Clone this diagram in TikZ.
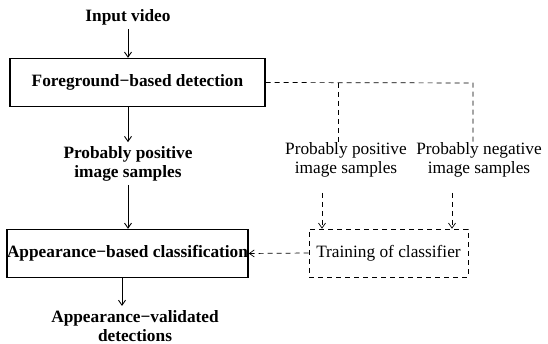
\documentclass[tikz,border=0pt]{standalone}
\usepackage{fontspec}
\setmainfont{Liberation Serif}
\usetikzlibrary{arrows.meta,calc}

\begin{document}
\begin{tikzpicture}[x=1pt,y=1pt,
    every node/.style={font=\fontsize{17.3}{19.5}\selectfont,align=center,inner sep=0pt},
    stage/.style={draw,line width=1.4pt,minimum height=48pt},
    trainbox/.style={draw,dashed,dash pattern=on 5pt off 4pt,line width=0.7pt,minimum width=159pt,minimum height=48pt},
    flow/.style={line width=0.9pt,-{Straight Barb[length=5pt,width=7pt]}},
    feed/.style={line width=0.7pt,dash pattern=on 5pt off 4pt}]
    \useasboundingbox (0,0) rectangle (548,344);
    % main chain on the left
    \node[font=\fontsize{17.3}{19.5}\selectfont\bfseries] (input) at (128,327) {Input video};
    \node[stage,minimum width=255pt] (fg) at (137.5,261.5) {\bfseries Foreground\textminus based detection};
    \node[font=\fontsize{17.3}{19.5}\selectfont\bfseries] (pos) at (128,180) {Probably positive\\image samples};
    \node[stage,minimum width=239pt] (app) at (127.5,90.5) {\bfseries Appearance\textminus based classification};
    \node[font=\fontsize{17.3}{19.5}\selectfont\bfseries] (valid) at (135,18) {Appearance\textminus validated\\detections};
    % training branch on the right
    \node (pos2) at (346,184) {Probably positive\\image samples};
    \node (neg) at (479,184) {Probably negative\\image samples};
    \node[trainbox] (train) at (388.5,91) {Training of classifier};
    \coordinate (s1) at (338,261);
    \coordinate (s2) at (473,261);
    \coordinate (t1) at (322,151);
    \coordinate (t2) at (452,151);

    \draw[flow] ([yshift=-4pt]input.south) -- (input.south |- fg.north);
    \draw[flow] (pos.north |- fg.south) -- ([yshift=4pt]pos.north);
    \draw[flow] ([yshift=-3pt]pos.south) -- (pos.south |- app.north);
    \coordinate (v) at ([xshift=-5.5pt]app.south);
    \draw[flow] (v) -- ([yshift=4pt]v |- valid.north);
    \draw[feed] (fg.east) -- (s2) -- (s2 |- neg.north);
    \draw[feed] (s1) -- (s1 |- pos2.north);
    \foreach \t in {t1,t2}
        \draw[feed,-{Straight Barb[length=5pt,width=7pt]}] (\t) -- (\t |- train.north);
    \draw[feed,-{Straight Barb[length=5pt,width=7pt]}] (train.west) -- (app.east);
\end{tikzpicture}
\end{document}
